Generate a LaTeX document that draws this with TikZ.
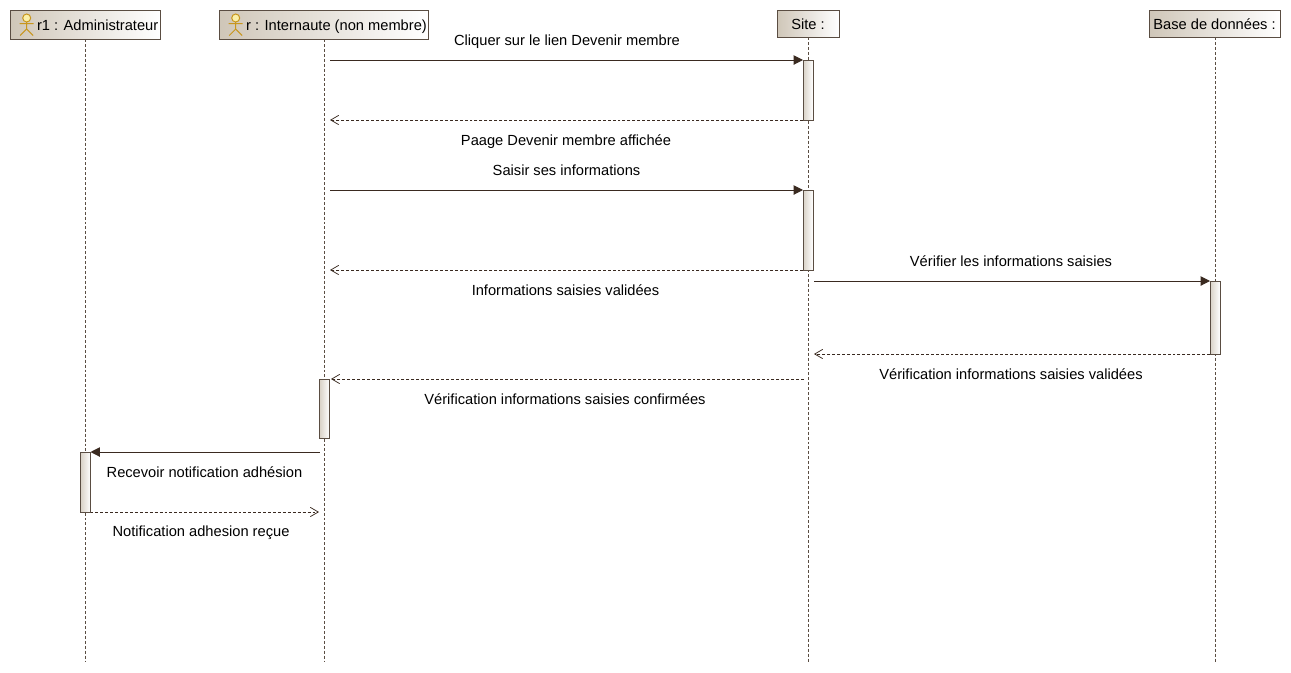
\documentclass[tikz,border=0pt]{standalone}
\usepackage{fontspec}
\setmainfont{Liberation Sans}
\usetikzlibrary{arrows.meta}
\definecolor{edgec}{HTML}{5A4D42}
\definecolor{wire}{HTML}{3A2A20}
\definecolor{tan}{HTML}{CFC6B8}
\definecolor{actorline}{HTML}{C8961E}
\definecolor{actorfill}{HTML}{FBF0A8}
\tikzset{
  x=0.75pt,y=-0.75pt,
  head/.style={draw=edgec,line width=0.75pt,left color=tan,right color=white,inner sep=0pt,outer sep=0pt,text height=9.5pt,text depth=1pt,font=\fontsize{11pt}{13pt}\selectfont},
  bar/.style={draw=edgec,line width=0.75pt,left color=tan!80!white,right color=white,inner sep=0pt,outer sep=0pt,minimum width=7.5pt},
  life/.style={draw=edgec,line width=0.6pt,dash pattern=on 2.2pt off 1.5pt},
  call/.style={draw=wire,line width=0.75pt,-{Triangle[length=7pt,width=7pt]}},
  reply/.style={draw=wire,line width=0.6pt,dash pattern=on 2.2pt off 1.5pt,-{Straight Barb[length=6pt,width=7pt,line width=0.55pt]}},
  msg/.style={inner sep=0pt,text height=9.5pt,text depth=1pt,font=\fontsize{11pt}{13pt}\selectfont},
  stick/.style={draw=actorline,line width=0.75pt},
}
\begin{document}
\begin{tikzpicture}
\useasboundingbox (0,0) rectangle (1291,672);
\fill[white] (0,0) rectangle (1291,672);
% heads
\node[head,minimum width=112.5pt,minimum height=21.75pt] (admin) at (85,24.5) {\hspace{19pt}r1 : Administrateur};
\node[head,minimum width=156.75pt,minimum height=21.75pt] (user) at (323.5,24.5) {\hspace{19.5pt}r : Internaute (non membre)};
\node[head,minimum width=46.5pt,minimum height=20.25pt] (site) at (808,23.5) {Site :\hspace{15pt}};
\node[head,minimum width=98.25pt,minimum height=20.25pt] (db) at (1214.5,23.5) {Base de données :\hspace{3pt}};
% actor icons
\foreach \ax in {26.7,235.7}{
  \draw[stick] (\ax,21) -- (\ax,29) (\ax-7,23.5) -- (\ax+7,23.5) (\ax-6.5,35.5) -- (\ax,29) -- (\ax+6.5,35.5);
  \draw[stick,fill=actorfill] (\ax,18) circle[radius=4];
}
% lifelines
\coordinate (adminend) at (85,662);
\coordinate (userend) at (324,662);
\coordinate (siteend) at (808,662);
\coordinate (dbend) at (1215,662);
\draw[life] (admin.south) -- (adminend);
\draw[life] (user.south -| userend) -- (userend);
\draw[life] (site.south) -- (siteend);
\draw[life] (db.south -| dbend) -- (dbend);
% activations
\node[bar,minimum height=45pt] (a1) at (808,90) {};
\node[bar,minimum height=60pt] (a2) at (808,230) {};
\node[bar,minimum height=54.75pt] (a3) at (1215,317.5) {};
\node[bar,minimum height=44.25pt] (a4) at (324.5,408.5) {};
\node[bar,minimum height=45pt] (a5) at (85.5,482) {};
% free ends
\coordinate (u1) at (330,60);
\coordinate (u2) at (330,120);
\coordinate (u3) at (330,190);
\coordinate (u4) at (330,270);
\coordinate (s5) at (814,281);
\coordinate (s6) at (814,354);
\coordinate (s7) at (804,379);
\coordinate (u7) at (331,379);
\coordinate (u8) at (319.5,452);
\coordinate (u9) at (319,512);
% messages
\draw[call] (u1) -- (a1.north west);
\draw[reply] (a1.south west) -- (u2);
\draw[call] (u3) -- (a2.north west);
\draw[reply] (a2.south west) -- (u4);
\draw[call] (s5) -- (a3.north west);
\draw[reply] (a3.south west) -- (s6);
\draw[reply] (s7) -- (u7);
\draw[call] (u8) -- (a5.north east);
\draw[reply] (a5.south east) -- (u9);
% labels
\node[msg] (l1) at (567,40) {Cliquer sur le lien Devenir membre};
\node[msg] (l2) at (566,140) {Paage Devenir membre affichée};
\node[msg] (l3) at (566.5,170) {Saisir ses informations};
\node[msg] (l4) at (565.5,290) {Informations saisies validées};
\node[msg] (l5) at (1011,261) {Vérifier les informations saisies};
\node[msg] (l6) at (1011,374) {Vérification informations saisies validées};
\node[msg] (l7) at (565,399) {Vérification informations saisies confirmées};
\node[msg] (l8) at (204.5,472) {Recevoir notification adhésion};
\node[msg] (l9) at (201,531) {Notification adhesion reçue};
\end{tikzpicture}
\end{document}
